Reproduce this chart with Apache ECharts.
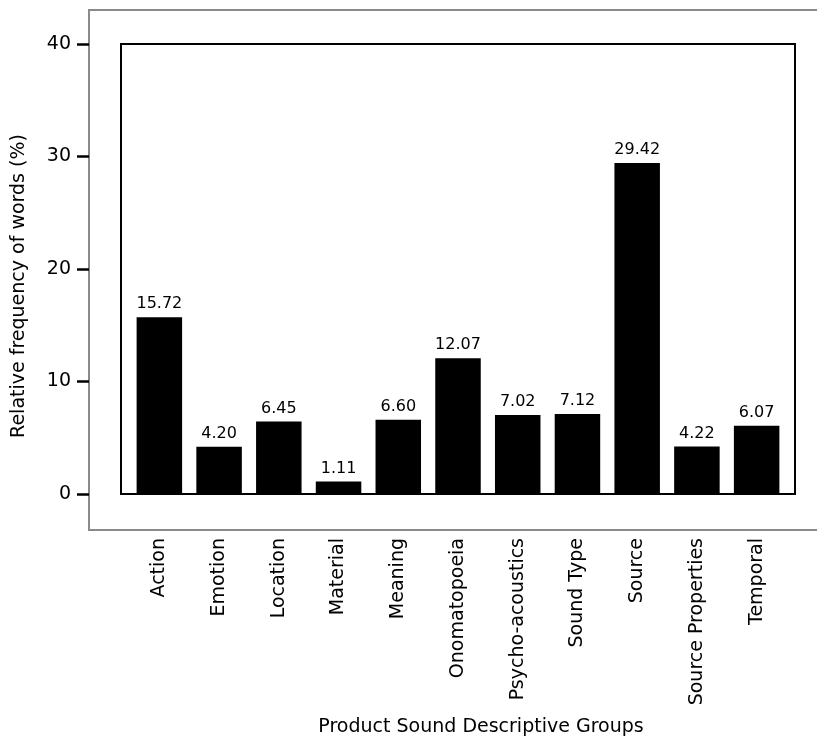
<!DOCTYPE html>
<html>
<head>
<meta charset="utf-8">
<script src="https://cdn.jsdelivr.net/npm/echarts@6/dist/echarts.min.js"></script>
<style>html,body{margin:0;padding:0;background:#fff;}#chart{width:817px;height:740px;}</style>
</head>
<body>
<div id="chart"></div>
<script>
const categories = ["Action","Emotion","Location","Material","Meaning","Onomatopoeia","Psycho-acoustics","Sound Type","Source","Source Properties","Temporal"];
const values = [15.72, 4.20, 6.45, 1.11, 6.60, 12.07, 7.02, 7.12, 29.42, 4.22, 6.07];
const yTicks = [0, 10, 20, 30, 40];
const xTitle = "Product Sound Descriptive Groups";
const yTitle = "Relative frequency of words (%)";

const FONT = "DejaVu Sans";
const chart = echarts.init(document.getElementById('chart'), null, {renderer: 'canvas'});
chart.setOption({
  backgroundColor: '#fff',
  animation: false,
  textStyle: {fontFamily: FONT},
  grid: {left: 129.5, right: 30.5, top: 44, bottom: 246, containLabel: false},
  xAxis: {
    type: 'category',
    data: categories,
    boundaryGap: true,
    axisLine: {show: false},
    axisTick: {show: false},
    axisLabel: {rotate: 90, margin: 44, fontSize: 19, color: '#000', fontFamily: FONT, interval: 0}
  },
  yAxis: {
    type: 'value',
    min: yTicks[0],
    max: yTicks[yTicks.length - 1],
    interval: 10,
    offset: 40.5,
    axisLine: {show: false},
    axisTick: {show: true, length: 12, lineStyle: {color: '#000', width: 2.5}},
    axisLabel: {margin: 18, fontSize: 19, color: '#000', fontFamily: FONT},
    splitLine: {show: false}
  },
  graphic: [
    {type: 'rect', z: -1, shape: {x: 89, y: 10, width: 800, height: 520}, style: {fill: 'none', stroke: '#8a8a8a', lineWidth: 2}},
    {type: 'rect', z: 0, shape: {x: 121, y: 44, width: 674, height: 450}, style: {fill: 'none', stroke: '#000', lineWidth: 2}},
    {type: 'text', x: 481, y: 727, style: {text: xTitle, font: '19px "DejaVu Sans"', fill: '#000', textAlign: 'center', textVerticalAlign: 'middle'}},
    {type: 'text', x: 19, y: 286, rotation: Math.PI / 2, style: {text: yTitle, font: '19px "DejaVu Sans"', fill: '#000', textAlign: 'center', textVerticalAlign: 'middle'}}
  ],
  series: [{
    type: 'bar',
    data: values,
    barWidth: 45.5,
    itemStyle: {color: '#000'},
    label: {show: true, position: 'top', distance: 5, fontSize: 16, color: '#000', fontFamily: FONT,
      formatter: p => p.value.toFixed(2)}
  }]
});
</script>
</body>
</html>
